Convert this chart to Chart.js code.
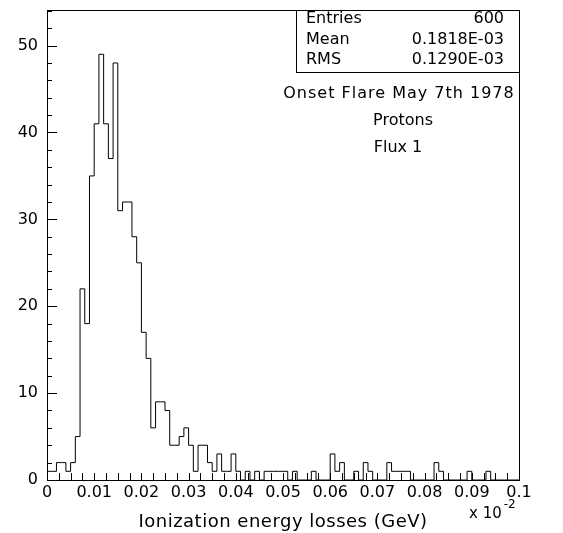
<!DOCTYPE html>
<html>
<head>
<meta charset="utf-8">
<script src="https://cdn.jsdelivr.net/npm/chart.js@4"></script>
<style>
  html, body { margin: 0; padding: 0; background: #fff; }
  #wrap { width: 563px; height: 533px; position: relative; }
</style>
</head>
<body>
<div id="wrap"><canvas id="c"></canvas></div>
<script>
// Histogram binning (axis units are 10^-2 GeV)
const binLow = 0;
const binHigh = 0.1;
const nBins = 100;

// Entries per bin
const counts = [
  1, 1, 2, 2, 1, 2, 5, 22, 18, 35,
  41, 49, 41, 37, 48, 31, 32, 32, 28, 25,
  17, 14, 6, 9, 9, 8, 4, 4, 5, 6,
  4, 1, 4, 4, 2, 1, 3, 1, 1, 3,
  1, 0, 1, 0, 1, 0, 1, 1, 1, 1,
  1, 0, 1, 0, 0, 0, 1, 0, 0, 0,
  3, 1, 2, 0, 0, 1, 0, 2, 1, 0,
  0, 0, 2, 1, 1, 1, 1, 0, 0, 0,
  0, 0, 2, 1, 0, 0, 0, 0, 0, 1,
  0, 0, 0, 1, 0, 0, 0, 0, 0, 0
];

// Axis ticks
const xTickValues = [0, 0.01, 0.02, 0.03, 0.04, 0.05, 0.06, 0.07, 0.08, 0.09, 0.1];
const xTickLabels = ['0', '0.01', '0.02', '0.03', '0.04', '0.05', '0.06', '0.07', '0.08', '0.09', '0.1'];
const yTickValues = [0, 10, 20, 30, 40, 50];
const yTickLabels = ['0', '10', '20', '30', '40', '50'];
const yMax = 54.1;

// Texts
const xTitle = 'Ionization energy losses (GeV)';
const xExponentBase = 'x 10';
const xExponent = '-2';
const statsNames = ['Entries', 'Mean', 'RMS'];
const statsValues = ['600', '0.1818E-03', '0.1290E-03'];
const notes = ['Onset Flare May 7th 1978', 'Protons', 'Flux 1'];

const FONT = '"DejaVu Sans", sans-serif';

// Step outline: left edge of each bin, closed at the upper limit
const binWidth = (binHigh - binLow) / nBins;
const outline = counts.map((c, i) => ({ x: binLow + i * binWidth, y: c }));
outline.push({ x: binHigh, y: counts[counts.length - 1] });

const framePlugin = {
  id: 'frame',
  afterDraw(chart) {
    const ctx = chart.ctx;
    const a = chart.chartArea;
    const xs = chart.scales.x;
    const ys = chart.scales.y;
    ctx.save();
    ctx.strokeStyle = '#000';
    ctx.lineWidth = 1;
    // plot frame
    ctx.strokeRect(Math.round(a.left) + 0.5, Math.round(a.top) + 0.5,
                   Math.round(a.right - a.left), Math.round(a.bottom - a.top));
    // inward x ticks every 0.0025
    ctx.beginPath();
    for (let k = 0; k <= 40; k++) {
      const px = Math.round(xs.getPixelForValue(k * 0.0025)) + 0.5;
      ctx.moveTo(px, Math.round(a.bottom));
      ctx.lineTo(px, Math.round(a.bottom) - 7);
    }
    // inward y ticks every 2, long ones every 10
    for (let v = 0; v <= yMax; v += 2) {
      const py = Math.round(ys.getPixelForValue(v)) + 0.5;
      const len = (v % 10 === 0) ? 10 : 5;
      ctx.moveTo(Math.round(a.left), py);
      ctx.lineTo(Math.round(a.left) + len, py);
    }
    ctx.stroke();

    ctx.fillStyle = '#000';
    ctx.textBaseline = 'middle';
    // x axis title
    ctx.font = '18px ' + FONT;
    ctx.letterSpacing = '0.5px';
    ctx.textAlign = 'center';
    ctx.fillText(xTitle, (a.left + a.right) / 2, 522);
    ctx.letterSpacing = '0px';
    // exponent of the x axis
    ctx.font = '15px ' + FONT;
    ctx.textAlign = 'left';
    ctx.fillText(xExponentBase, 469, 514);
    const w = ctx.measureText(xExponentBase).width;
    ctx.font = '12px ' + FONT;
    ctx.fillText(xExponent, 469 + w + 2, 505);

    // statistics box
    const boxL = 296, boxT = Math.round(a.top), boxR = Math.round(a.right), boxB = 72;
    ctx.strokeRect(boxL + 0.5, boxT + 0.5, boxR - boxL, boxB - boxT);
    ctx.font = '16px ' + FONT;
    const rowY = [19, 39.5, 60];
    statsNames.forEach((n, i) => {
      ctx.textAlign = 'left';
      ctx.fillText(n, 306, rowY[i]);
      ctx.textAlign = 'right';
      ctx.fillText(statsValues[i], 504, rowY[i]);
    });

    // notes under the box
    ctx.textAlign = 'center';
    const noteX = [399, 403, 398];
    const noteY = [94, 121, 148];
    const noteSpacing = ['1px', '0px', '0px'];
    notes.forEach((t, i) => {
      ctx.letterSpacing = noteSpacing[i];
      ctx.fillText(t, noteX[i], noteY[i]);
    });
    ctx.letterSpacing = '0px';
    ctx.restore();
  }
};

new Chart(document.getElementById('c'), {
  type: 'line',
  data: {
    datasets: [{
      data: outline,
      borderColor: '#000',
      borderWidth: 1,
      pointRadius: 0,
      fill: false,
      stepped: true,
      tension: 0
    }]
  },
  options: {
    responsive: true,
    maintainAspectRatio: false,
    animation: false,
    events: [],
    layout: { padding: { top: 10, right: 44, left: 0, bottom: 0 } },
    plugins: { legend: { display: false }, tooltip: { enabled: false } },
    scales: {
      x: {
        type: 'linear',
        min: binLow,
        max: binHigh,
        afterBuildTicks: s => { s.ticks = xTickValues.map(v => ({ value: v })); },
        afterFit: s => { s.height = 53; s.paddingLeft = 0; s.paddingRight = 0; },
        grid: { display: false, drawTicks: false },
        border: { display: false },
        ticks: {
          autoSkip: false,
          maxRotation: 0,
          padding: 3,
          color: '#000',
          font: { family: FONT, size: 16 },
          callback: (v, i) => xTickLabels[i]
        }
      },
      y: {
        type: 'linear',
        min: 0,
        max: yMax,
        afterBuildTicks: s => { s.ticks = yTickValues.map(v => ({ value: v })); },
        afterFit: s => { s.width = 47; s.paddingTop = 0; s.paddingBottom = 0; },
        grid: { display: false, drawTicks: false },
        border: { display: false },
        ticks: {
          padding: 9,
          color: '#000',
          font: { family: FONT, size: 16 },
          callback: (v, i) => yTickLabels[i]
        }
      }
    }
  },
  plugins: [framePlugin]
});
</script>
</body>
</html>
